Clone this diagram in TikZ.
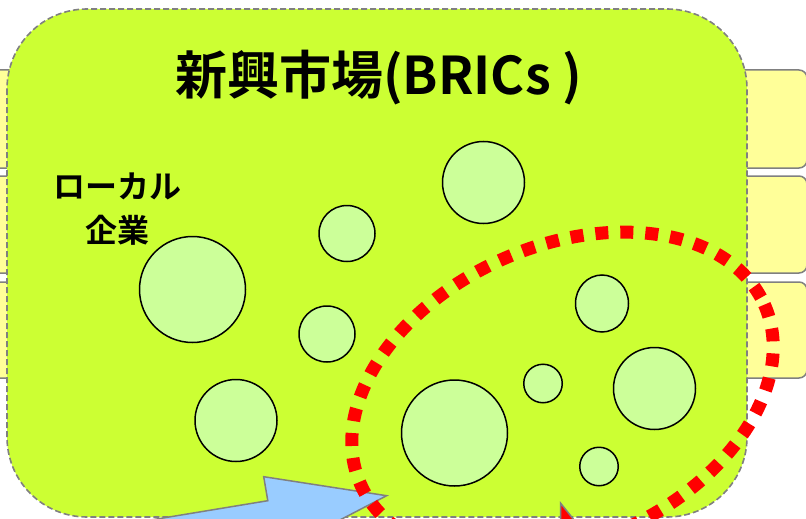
\documentclass[tikz,border=0pt]{standalone}
\usepackage{fontspec}
\newfontfamily\jp{Noto Sans CJK JP}[BoldFont={Noto Sans CJK JP Bold}]
\usetikzlibrary{shapes.geometric}
\definecolor{limefill}{HTML}{CCFF33}
\definecolor{paleyellow}{HTML}{FFFF99}
\definecolor{firmfill}{HTML}{CCFF99}
\definecolor{skyfill}{HTML}{99CCFF}
\definecolor{edgegray}{HTML}{808080}
\begin{document}
\begin{tikzpicture}[x=1pt,y=-1pt,
  ybox/.style={draw=edgegray, line width=1.5pt, fill=paleyellow, rounded corners=8pt},
  market/.style={draw=edgegray, line width=1.6pt, dash pattern=on 6pt off 3pt, fill=limefill, rounded corners=80pt},
  firm/.style={draw=black, line width=1.5pt, fill=firmfill, inner sep=0pt},
  blockarrow/.style={draw=edgegray, line width=1.5pt, line join=miter},
  focus/.style={draw=red, line width=13pt, dash pattern=on 13pt off 12pt},
  label/.style={inner sep=0pt, text=black}]
\useasboundingbox (0,0) rectangle (806,519);
\clip (0,0) rectangle (806,519);
% background rows
\path[ybox] (-30,70) rectangle (807,168);
\path[ybox] (-30,176) rectangle (807,273);
\path[ybox] (-30,282) rectangle (807,378);
% market box
\path[market] (7,9) rectangle (747,517);
% firms
\node[firm, circle, minimum size=82pt] (c1) at (483.5,182.5) {};
\node[firm, circle, minimum size=56pt] (c2) at (347,233.5) {};
\node[firm, circle, minimum size=106pt] (c3) at (192.5,289.5) {};
\node[firm, circle, minimum size=56pt] (c4) at (327,334) {};
\node[firm, ellipse, minimum width=53pt, minimum height=57pt] (c5) at (602,303.5) {};
\node[firm, circle, minimum size=82pt] (c6) at (236,420.5) {};
\node[firm, circle, minimum size=38.5pt] (c7) at (543,383.5) {};
\node[firm, circle, minimum size=82pt] (c8) at (654.5,388.5) {};
\node[firm, circle, minimum size=106pt] (c9) at (454.5,433) {};
\node[firm, circle, minimum size=38.5pt] (c10) at (599,466.5) {};
% texts
\node[label, anchor=base west, font=\jp\bfseries\fontsize{52}{60}\selectfont] (title) at (175,94.5) {新興市場(BRICs )};
\node[label, align=center, font=\jp\bfseries\fontsize{32}{44}\selectfont] (local) at (117,209.5) {ローカル\\企業};
% arrows
\coordinate (a1) at (29.6,540);
\coordinate (a2) at (267.8,500.7);
\coordinate (a3) at (263.7,476.7);
\coordinate (a4) at (386.6,495.7);
\coordinate (a5) at (301.4,540);
\path[blockarrow, fill=skyfill] (a1) -- (a2) -- (a3) -- (a4) -- (a5) -- cycle;
\coordinate (b1) at (560.7,503.3);
\coordinate (b2) at (560.7,535);
\coordinate (b3) at (586,535);
\path[blockarrow, fill=red] (b1) -- (b2) -- (b3) -- cycle;
% focus ellipse
\coordinate (fc) at (562.5,394.5);
\path[focus, rotate around={24:(fc)}] (fc) ellipse [x radius=221, y radius=148];
\end{tikzpicture}
\end{document}
